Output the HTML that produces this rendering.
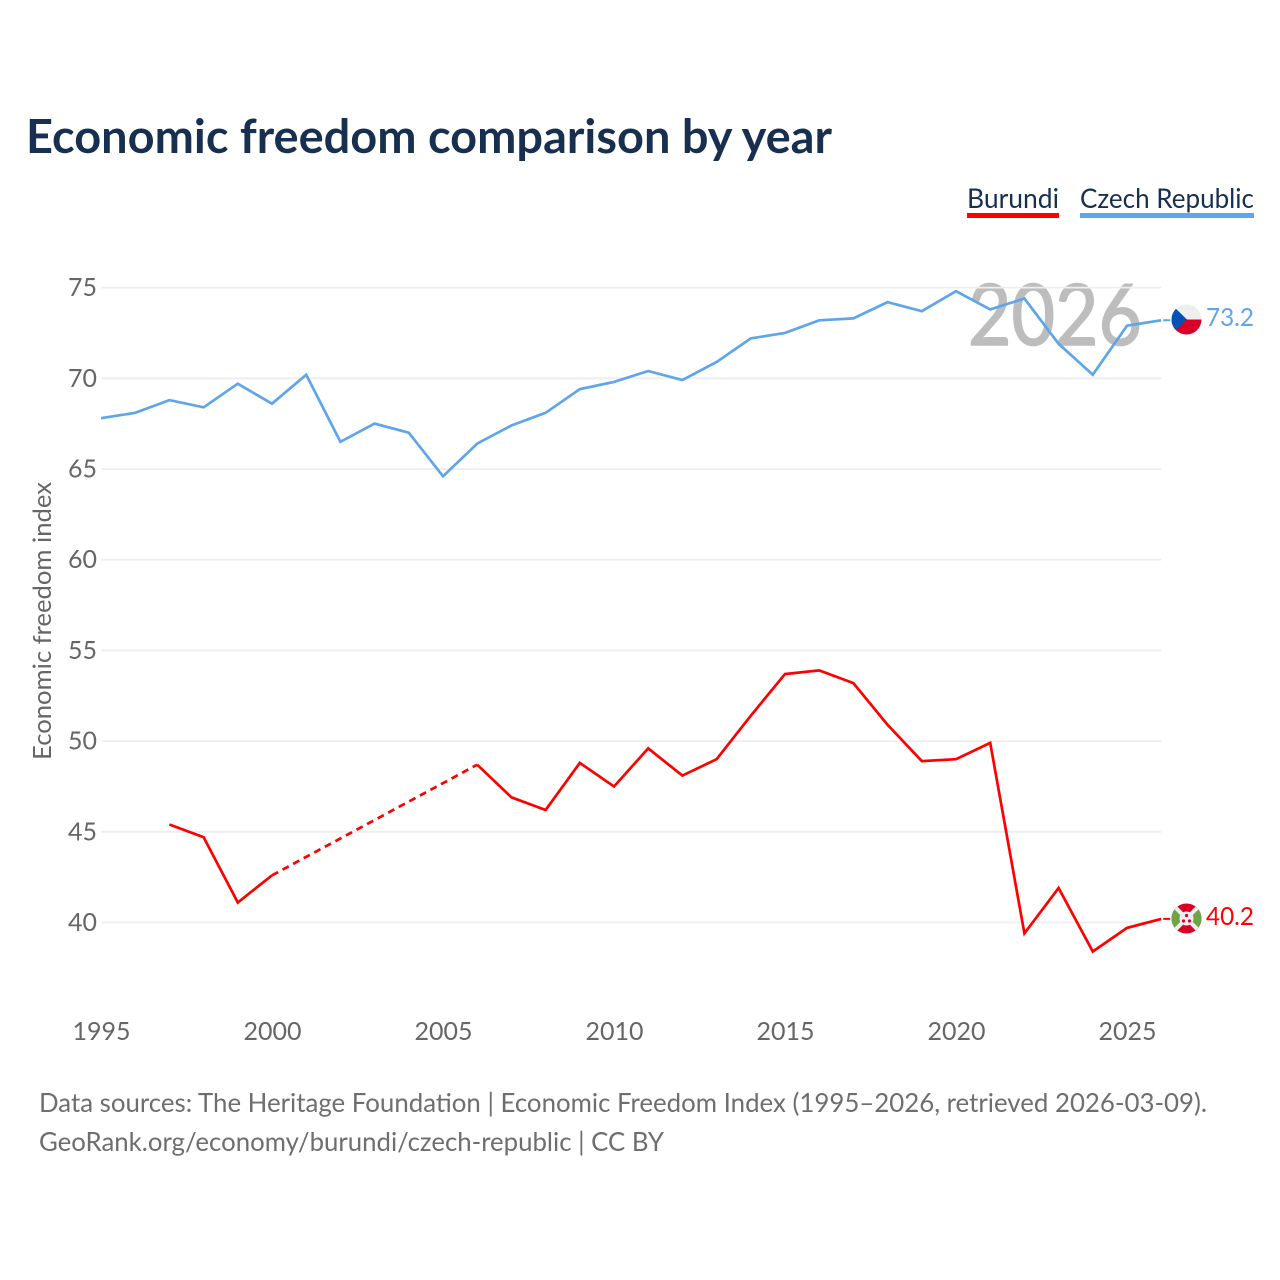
<!DOCTYPE html>
<html lang="en">
<head>
<meta charset="utf-8">
<title>Economic freedom comparison by year</title>
<style>
html,body{margin:0;padding:0;background:#fff;width:1280px;height:1280px;overflow:hidden}
svg{display:block}
text{font-family:"Lato","Carlito","Liberation Sans",sans-serif}
</style>
</head>
<body>
<svg id="chart" xmlns="http://www.w3.org/2000/svg" width="1280" height="1280" viewBox="0 0 1280 1280">
  <text x="26" y="153" font-size="47" font-weight="700" fill="#18304f" textLength="806" lengthAdjust="spacingAndGlyphs">Economic freedom comparison by year</text>

  <g>
    <text x="967" y="208" font-size="27" fill="#18304f" textLength="92" lengthAdjust="spacingAndGlyphs">Burundi</text>
    <rect x="967" y="213" width="92" height="5" fill="#ff0000"/>
  </g>
  <g>
    <text x="1080" y="208" font-size="27" fill="#18304f" textLength="174" lengthAdjust="spacingAndGlyphs">Czech Republic</text>
    <rect x="1080" y="213" width="174" height="5" fill="#5fa5ea"/>
  </g>

  <text x="968" y="345" font-size="84" fill="#bdbdbd" stroke="#bdbdbd" stroke-width="1.6" textLength="174" lengthAdjust="spacingAndGlyphs">2026</text>

  <g id="grid"></g>
  <g id="yticks"></g>
  <g id="xticks"></g>
  <text transform="translate(51,621) rotate(-90)" text-anchor="middle" font-size="25" fill="#666666" textLength="278" lengthAdjust="spacingAndGlyphs">Economic freedom index</text>

  <g id="series"></g>

  <defs>
    <clipPath id="cz-clip"><circle cx="1186.5" cy="319.5" r="15"/></clipPath>
    <clipPath id="bi-clip"><circle cx="1186.5" cy="918.5" r="15"/></clipPath>
  </defs>
  <g clip-path="url(#cz-clip)">
    <rect x="1171" y="304" width="31" height="15.5" fill="#eeeeee"/>
    <rect x="1171" y="319.5" width="31" height="15.5" fill="#d80027"/>
    <polygon points="1171,304 1187,319.5 1171,335" fill="#0052b4"/>
  </g>
  <g clip-path="url(#bi-clip)">
    <rect x="1171" y="903" width="31" height="31" fill="#d80027"/>
    <polygon points="1171,903 1186.5,918.5 1171,934" fill="#6da544"/>
    <polygon points="1202,903 1186.5,918.5 1202,934" fill="#6da544"/>
    <line x1="1171" y1="903" x2="1202" y2="934" stroke="#eeeeee" stroke-width="4"/>
    <line x1="1202" y1="903" x2="1171" y2="934" stroke="#eeeeee" stroke-width="4"/>
    <circle cx="1186.5" cy="918.5" r="7" fill="#eeeeee"/>
    <circle cx="1186.5" cy="915.5" r="1.6" fill="#d80027"/>
    <circle cx="1183.5" cy="921" r="1.6" fill="#d80027"/>
    <circle cx="1189.5" cy="921" r="1.6" fill="#d80027"/>
  </g>

  <text x="1254" y="326" text-anchor="end" font-size="25" fill="#5fa5ea" textLength="48" lengthAdjust="spacingAndGlyphs">73.2</text>
  <text x="1254" y="925" text-anchor="end" font-size="25" fill="#ff0000" textLength="48" lengthAdjust="spacingAndGlyphs">40.2</text>

  <text x="39" y="1112" font-size="26.5" fill="#6e6e6e" textLength="1168" lengthAdjust="spacingAndGlyphs">Data sources: The Heritage Foundation | Economic Freedom Index (1995–2026, retrieved 2026-03-09).</text>
  <text x="39" y="1151" font-size="26.5" fill="#6e6e6e" textLength="625" lengthAdjust="spacingAndGlyphs">GeoRank.org/economy/burundi/czech-republic | CC BY</text>
</svg>

<script>
const years = [1995,1996,1997,1998,1999,2000,2001,2002,2003,2004,2005,2006,2007,2008,2009,2010,2011,2012,2013,2014,2015,2016,2017,2018,2019,2020,2021,2022,2023,2024,2025,2026];
const czechValues = [67.8,68.1,68.8,68.4,69.7,68.6,70.2,66.5,67.5,67.0,64.6,66.4,67.4,68.1,69.4,69.8,70.4,69.9,70.9,72.2,72.5,73.2,73.3,74.2,73.7,74.8,73.8,74.4,71.9,70.2,72.9,73.2];
const burundiValues = [null,null,45.4,44.7,41.1,42.6,null,null,null,null,null,48.7,46.9,46.2,48.8,47.5,49.6,48.1,49.0,51.4,53.7,53.9,53.2,50.9,48.9,49.0,49.9,39.4,41.9,38.4,39.7,40.2];
const yTickValues = [40,45,50,55,60,65,70,75];
const xTickValues = [1995,2000,2005,2010,2015,2020,2025];

const NS = 'http://www.w3.org/2000/svg';
const xScale = y => 101 + (y - 1995) * 34.2;
const yScale = v => 922.5 - (v - 40) * 18.14;
const LAST_X = xScale(2026);

function make(tag, attrs, parent, txt) {
  const el = document.createElementNS(NS, tag);
  for (const k in attrs) el.setAttribute(k, attrs[k]);
  if (txt !== undefined) el.textContent = txt;
  parent.appendChild(el);
  return el;
}

const grid = document.getElementById('grid');
const yticksG = document.getElementById('yticks');
yTickValues.forEach(v => {
  const ln = make('line', {x1: 101.5, x2: LAST_X, y1: yScale(v), y2: yScale(v), stroke: '#eeeeee', 'stroke-width': 1.8}, grid);
  
  
  const t = make('text', {x: 97, y: yScale(v) + 8.5, 'text-anchor': 'end', 'font-size': 25, fill: '#666666'}, yticksG, String(v));
  
  
});

const xticksG = document.getElementById('xticks');
xTickValues.forEach(y => {
  const t = make('text', {x: xScale(y) + 0.5, y: 1040, 'text-anchor': 'middle', 'font-size': 25, fill: '#666666'}, xticksG, String(y));
  
  
});

function drawSeries(values, color, name) {
  const seriesG = document.getElementById('series');
  const g = make('g', {}, seriesG);
  
  
  let run = [];
  let prev = null;
  const flush = () => {
    if (run.length > 1) {
      const pl = make('polyline', {points: run.join(' '), fill: 'none', stroke: color, 'stroke-width': 2.7, 'stroke-linejoin': 'miter'}, g);
      
      
    }
    run = [];
  };
  values.forEach((v, i) => {
    if (v === null) { return; }
    const px = xScale(years[i]), py = yScale(v);
    if (prev !== null && prev.i !== i - 1) {
      flush();
      const d = make('line', {x1: xScale(years[prev.i]), y1: yScale(prev.v), x2: px, y2: py, stroke: color, 'stroke-width': 2.7, 'stroke-dasharray': '7 5'}, g);
      
      
    }
    run.push(px.toFixed(1) + ',' + py.toFixed(1));
    prev = {i: i, v: v};
  });
  flush();
  const lastV = values[values.length - 1];
  const lead = make('line', {x1: LAST_X + 2, x2: LAST_X + 9, y1: yScale(lastV), y2: yScale(lastV), stroke: color, 'stroke-width': 2}, g);
  
  
}
drawSeries(czechValues, '#5fa5ea', 'czech-republic');
drawSeries(burundiValues, '#ff0000', 'burundi');
</script>
</body>
</html>
